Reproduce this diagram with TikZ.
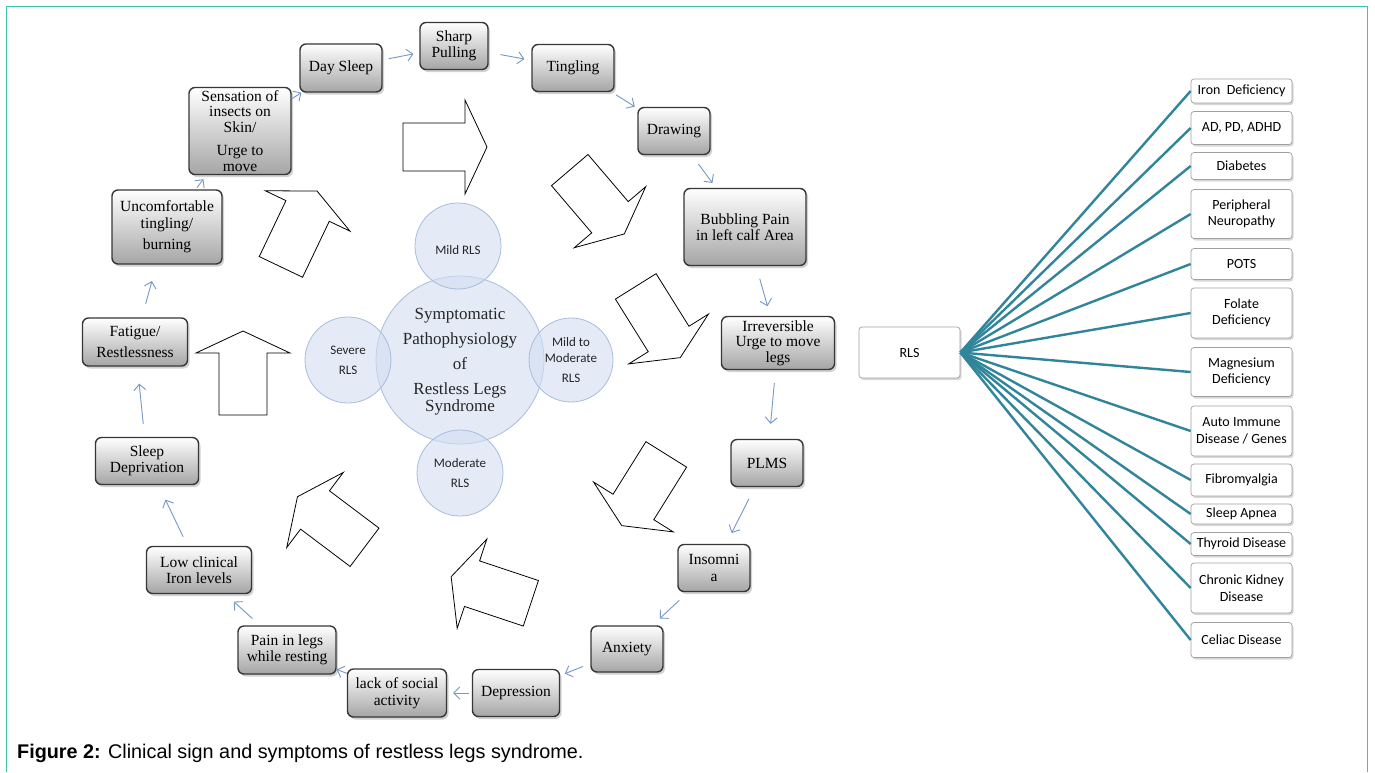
\documentclass[tikz,border=0pt]{standalone}
\usepackage{fontspec}
\setmainfont{Liberation Serif}
\newfontfamily\calib{Carlito}
\newfontfamily\capfont{Liberation Sans}
\usetikzlibrary{arrows.meta,shadows}
\definecolor{framecol}{RGB}{62,196,170}
\definecolor{tealline}{RGB}{49,133,155}
\definecolor{arrblue}{RGB}{118,152,194}
\definecolor{boxdark}{RGB}{55,55,55}
\definecolor{boxbot}{RGB}{165,165,165}
\definecolor{circfill}{RGB}{210,223,242}
\definecolor{circdraw}{RGB}{168,188,220}
\definecolor{rboxdraw}{RGB}{160,160,160}
\newcommand\bigarr[3]{\draw[blockarr, shift={(#1,#2)}, rotate=#3] (-42,-24) -- (20,-24) -- (20,-47) -- (42,0) -- (20,47) -- (20,24) -- (-42,24) -- cycle;}
\tikzset{
 sbox/.style={draw=boxdark, line width=1.4pt, rounded corners=6pt, top color=white, bottom color=boxbot,
   drop shadow={shadow xshift=2pt,shadow yshift=-2.5pt,opacity=0.35}, align=center, inner sep=1pt,
   font=\fontsize{15.5}{16.5}\selectfont},
 flow/.style={draw=arrblue, line width=0.9pt, -{Straight Barb[length=6pt,width=12pt]}},
 blockarr/.style={draw=black, line width=0.8pt, fill=white},
 circ/.style={circle, draw=circdraw, line width=0.8pt, fill=circfill, fill opacity=0.6, inner sep=0pt},
 ctext/.style={align=center, font=\calib\fontsize{13}{20}\selectfont, text=black!85},
 rbox/.style={draw=rboxdraw, line width=0.7pt, rounded corners=3pt, fill=white,
   drop shadow={shadow xshift=1.5pt, shadow yshift=-2pt, opacity=0.3}, align=center,
   font=\calib\fontsize{14}{16.5}\selectfont, inner sep=1pt, minimum width=101pt},
 rline/.style={draw=tealline, line width=2.4pt},
}
\begin{document}
\begin{tikzpicture}[x=1pt,y=-1pt]
\fill[white] (0,0) rectangle (1375,772);
\useasboundingbox (0,0) rectangle (1375,772);
\draw[framecol, line width=1.6pt] (6.5,772) -- (6.5,6.5) -- (1367.5,6.5) -- (1367.5,772);

% block arrows
\bigarr{445}{147}{0}
\bigarr{597}{202}{-49.5}
\bigarr{658}{322}{-58}
\bigarr{644}{490}{-122}
\bigarr{491}{590}{161.6}
\bigarr{331}{522}{143}
\bigarr{243}{373}{90}
\bigarr{299}{229}{64.5}

% circles
\node[circ, minimum size=168pt] (cbig) at (460,360) {};
\node[circ, minimum size=86pt] (cmild) at (458,246) {};
\node[circ, minimum size=86pt] (csev) at (348,360) {};
\node[circ, minimum size=84pt] (cmm) at (571,360) {};
\node[circ, minimum size=86pt] (cmod) at (460,473) {};
\node[align=center, font=\fontsize{17}{25}\selectfont, text=black!85] (tbig) at ([yshift=-2pt]cbig.center) {Symptomatic\\Pathophysiology\\of\\Restless Legs\\[-8pt]Syndrome};
\node[ctext] (tmild) at ([yshift=-4pt]cmild.center) {Mild RLS};
\node[ctext] (tsev) at (csev.center) {Severe\\RLS};
\node[ctext, font=\calib\fontsize{13}{16}\selectfont] (tmm) at (cmm.center) {Mild to\\Moderate\\[4pt]RLS};
\node[ctext] (tmod) at (cmod.center) {Moderate\\RLS};

% symptom boxes
\node[sbox, minimum width=82pt, minimum height=48pt] (dsleep) at (341,68) {Day Sleep};
\node[sbox, minimum width=68pt, minimum height=47pt] (sharp) at (454,46) {Sharp\\Pulling};
\node[sbox, minimum width=82pt, minimum height=47pt] (tingl) at (573,68) {Tingling};
\node[sbox, minimum width=72pt, minimum height=47pt] (drawg) at (674,131) {Drawing};
\node[sbox, minimum width=122pt, minimum height=77pt] (bubbl) at (745,227) {Bubbling Pain\\in left calf Area};
\node[sbox, minimum width=113pt, minimum height=53pt, font=\fontsize{15.5}{15.5}\selectfont] (irrev) at (778,343) {Irreversible\\Urge to move\\legs};
\node[sbox, minimum width=72pt, minimum height=47pt] (plms) at (767,463) {PLMS};
\node[sbox, minimum width=72pt, minimum height=47pt] (insom) at (714,568) {Insomni\\a};
\node[sbox, minimum width=72pt, minimum height=46pt] (anxty) at (627,649) {Anxiety};
\node[sbox, minimum width=87pt, minimum height=47pt] (depre) at (516,693) {Depression};
\node[sbox, minimum width=99pt, minimum height=48pt] (lacks) at (397,693) {lack of social\\activity};
\node[sbox, minimum width=98pt, minimum height=48pt] (painl) at (287,650) {Pain in legs\\while resting};
\node[sbox, minimum width=105pt, minimum height=47pt] (lowir) at (199,570) {Low clinical\\Iron levels};
\node[sbox, minimum width=103pt, minimum height=47pt] (sleepd) at (147,461) {Sleep\\Deprivation};
\node[sbox, minimum width=105pt, minimum height=48pt] (fatig) at (135,342) {Fatigue/\\[5pt]Restlessness};
\node[sbox, minimum width=110pt, minimum height=74pt] (uncomf) at (167,227) {Uncomfortable\\tingling/\\[5pt]burning};
\node[sbox, minimum width=102pt, minimum height=87pt, font=\fontsize{15.5}{15.5}\selectfont] (sensa) at (240,131) {Sensation of\\insects on\\Skin/\\[8pt]Urge to\\move};

% flow arrows
\draw[flow] (sensa) -- (dsleep);
\draw[flow, shorten <=6pt, shorten >=6pt] (dsleep) -- (sharp);
\draw[flow, shorten <=12pt, shorten >=7pt] (sharp) -- (tingl);
\draw[flow, shorten <=5pt, shorten >=3pt] (tingl) -- (drawg);
\draw[flow, shorten <=11pt, shorten >=6pt] (drawg) -- (bubbl);
\draw[flow, shorten <=13pt, shorten >=10pt] (bubbl) -- (irrev);
\draw[flow, shorten <=13pt, shorten >=15pt] (irrev) -- (plms);
\draw[flow, shorten <=13pt, shorten >=12pt] (plms) -- (insom);
\draw[flow, shorten <=12pt, shorten >=10pt] (insom) -- (anxty);
\draw[flow, shorten <=8pt, shorten >=5pt] (anxty) -- (depre);
\draw[flow, shorten <=3pt, shorten >=6pt] (depre) -- (lacks);
\draw[flow] (lacks) -- (painl);
\draw[flow, shorten <=10pt, shorten >=11pt] (painl) -- (lowir);
\draw[flow, shorten <=10pt, shorten >=16pt] (lowir) -- (sleepd);
\draw[flow, shorten <=13pt, shorten >=17pt] (sleepd) -- (fatig);
\draw[flow, shorten <=14pt, shorten >=17pt] (fatig) -- (uncomf);
\draw[flow, shorten <=2pt, shorten >=5pt] (uncomf) -- (sensa);

% right tree
\node[rbox, minimum width=101pt, minimum height=51pt] (rls) at (909.5,352.5) {RLS};
\node[rbox, minimum height=24pt] (iron) at (1241.5,91) {Iron\ \ Deficiency};
\node[rbox, minimum height=33pt] (adpd) at (1241.5,128) {AD, PD, ADHD};
\node[rbox, minimum height=27pt] (diab) at (1241.5,166) {Diabetes};
\node[rbox, minimum height=49pt] (peri) at (1241.5,214) {Peripheral\\Neuropathy};
\node[rbox, minimum height=31pt] (pots) at (1241.5,264) {POTS};
\node[rbox, minimum height=50pt] (fola) at (1241.5,313) {Folate\\Deficiency};
\node[rbox, minimum height=49pt] (magn) at (1241.5,372) {Magnesium\\Deficiency};
\node[rbox, minimum height=50pt] (auto) at (1241.5,431) {Auto Immune\\Disease / Genes};
\node[rbox, minimum height=32pt] (fibr) at (1241.5,480) {Fibromyalgia};
\node[rbox, minimum height=20pt] (slap) at (1241.5,514) {Sleep Apnea};
\node[rbox, minimum height=23pt] (thyr) at (1241.5,544) {Thyroid Disease};
\node[rbox, minimum height=50pt] (chro) at (1241.5,588) {Chronic Kidney\\Disease};
\node[rbox, minimum height=35pt] (celi) at (1241.5,640) {Celiac Disease};
\foreach \n in {iron,adpd,diab,peri,pots,fola,magn,auto,fibr,slap,thyr,chro,celi}
  \draw[rline] (rls.east) -- (\n.west);

% caption
\node[anchor=west, inner sep=0pt, font=\capfont\fontsize{19.8}{22}\selectfont] (cap) at (17,753) {\textbf{Figure 2:} Clinical sign and symptoms of restless legs syndrome.};
\end{tikzpicture}
\end{document}
